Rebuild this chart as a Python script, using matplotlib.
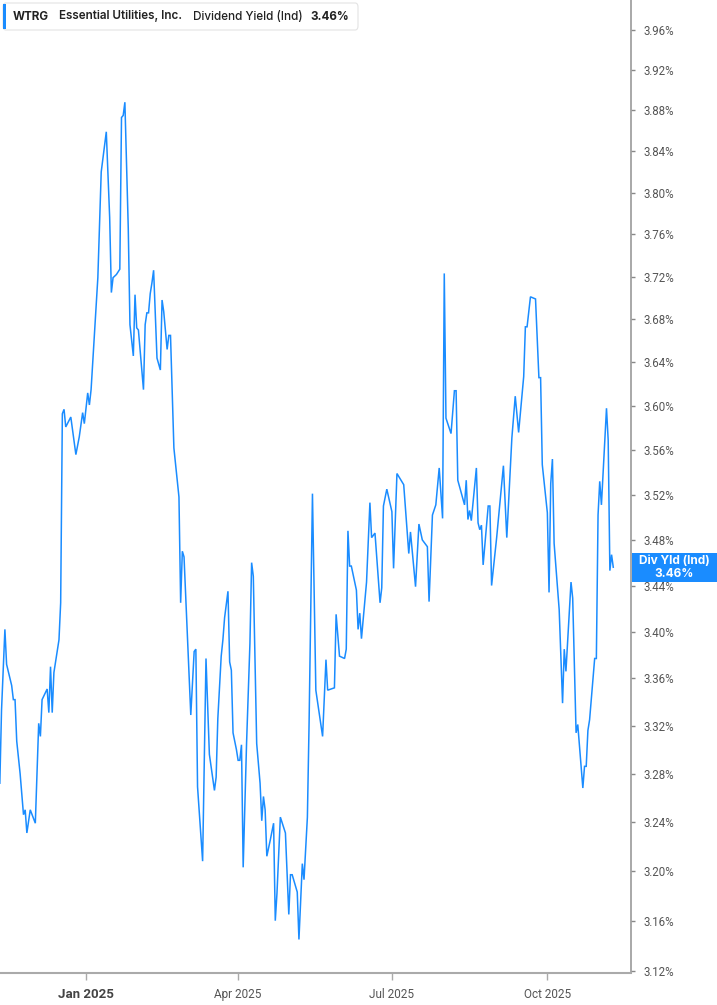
import matplotlib
matplotlib.use("Agg")
import matplotlib.pyplot as plt
from matplotlib.patches import Rectangle, FancyBboxPatch
from matplotlib.ticker import FixedLocator, NullLocator
import pandas as pd

# WTRG dividend yield
# days counted from 2025-01-01
days = [-51, -50, -48, -47, -44, -43, -42, -41, -39, -37, -36, -35, -33, -30, -28, -27, -26, -23, -22, -21,
        -20, -19, -16, -15, -14, -13, -12, -9, -6, -4, -2, -1, 1, 2, 3,
        5, 7, 9, 12, 14, 15, 16, 18, 20, 21, 22, 23, 25, 26, 28, 29, 30, 31, 34, 35,
        36, 37, 38, 39, 40, 42, 44, 45, 46, 48, 49, 50, 52, 55, 56, 57, 58,
        62, 64, 65, 66, 69, 71, 73, 76, 77, 78, 80, 81, 82, 84, 85, 86, 87, 89, 90, 91,
        92, 93, 95, 97, 98, 99, 101, 103, 104, 105, 106, 107, 109, 111, 112, 113, 115, 118, 120, 121,
        122, 125, 126, 128, 129, 131, 132, 134, 136, 140,
        142, 143, 147, 148, 150, 153, 154, 155, 156, 157, 160, 161, 162, 163, 166, 168, 169, 171, 174, 175,
        176, 178, 181, 182, 184, 188, 191, 192, 195, 197, 199, 202, 203, 205, 207, 209,
        211, 212, 213, 216, 218, 219, 220, 224, 225, 226, 227, 228, 231, 232, 233, 234, 235, 238, 239, 240,
        243, 247, 249, 252, 254, 256, 259, 260, 261, 263, 266, 268, 269,
        270, 273, 274, 275, 276, 277, 280, 282, 283, 284, 287, 288, 290, 291, 294, 295, 296, 297, 298, 301,
        302, 303, 304, 305, 308, 309, 310, 311, 312]

yields = [3.272, 3.333, 3.402, 3.372, 3.354, 3.342, 3.342, 3.307, 3.280, 3.246, 3.250, 3.231, 3.250, 3.239,
          3.322, 3.311, 3.342, 3.351, 3.331, 3.370, 3.331, 3.365, 3.393, 3.425, 3.593, 3.597, 3.581, 3.590,
          3.556, 3.572, 3.594, 3.584, 3.612, 3.601, 3.615,
          3.666, 3.719, 3.820, 3.859, 3.776, 3.705, 3.719, 3.722, 3.727, 3.873, 3.875, 3.888, 3.766, 3.675,
          3.646, 3.703, 3.672, 3.670, 3.615, 3.675, 3.686, 3.686, 3.704, 3.714, 3.726, 3.644, 3.633, 3.698,
          3.687, 3.652, 3.665, 3.665, 3.562, 3.518, 3.425, 3.470, 3.465,
          3.329, 3.383, 3.385, 3.269, 3.208, 3.377, 3.296, 3.266, 3.277, 3.326, 3.379, 3.393, 3.412, 3.435,
          3.374, 3.367, 3.314, 3.300, 3.291, 3.291, 3.304, 3.203, 3.305, 3.390, 3.460, 3.448, 3.305, 3.272,
          3.241, 3.261, 3.250, 3.212, 3.225, 3.239, 3.160, 3.182, 3.244, 3.231, 3.165, 3.197, 3.197, 3.183,
          3.145, 3.206, 3.193, 3.244, 3.322, 3.521, 3.350, 3.311,
          3.376, 3.350, 3.352, 3.415, 3.379, 3.377, 3.385, 3.488, 3.457, 3.457, 3.436, 3.402, 3.416, 3.394,
          3.443, 3.513, 3.482, 3.486, 3.425, 3.438, 3.510, 3.525, 3.505, 3.455, 3.539, 3.529, 3.468, 3.487,
          3.439, 3.494, 3.480, 3.474, 3.426, 3.502, 3.511, 3.544,
          3.499, 3.723, 3.589, 3.575, 3.614, 3.614, 3.533, 3.511, 3.533, 3.498, 3.506, 3.497, 3.544, 3.495,
          3.489, 3.493, 3.458, 3.510, 3.510, 3.440, 3.482, 3.546, 3.482, 3.571, 3.609, 3.576, 3.627, 3.673,
          3.673, 3.701, 3.699, 3.626, 3.626,
          3.547, 3.504, 3.434, 3.530, 3.552, 3.477, 3.419, 3.339, 3.385, 3.366, 3.443, 3.429, 3.314, 3.321,
          3.268, 3.286, 3.286, 3.316, 3.325, 3.377, 3.377, 3.502, 3.532, 3.511, 3.598, 3.569, 3.453, 3.467,
          3.456]

ytick_vals = [3.12, 3.16, 3.20, 3.24, 3.28, 3.32, 3.36, 3.40, 3.44, 3.48, 3.52, 3.56, 3.60, 3.64, 3.68,
              3.72, 3.76, 3.80, 3.84, 3.88, 3.92, 3.96]
xtick_dates = ["2025-01-01", "2025-04-01", "2025-07-01", "2025-10-01"]
xtick_labels = ["Jan 2025", "Apr 2025", "Jul 2025", "Oct 2025"]

ticker_name = "WTRG"
company = "Essential Utilities, Inc."
metric = "Dividend Yield (Ind)"
last_label = "3.46%"

BLUE = "#1a8cff"
W, H = 717, 1005

base = pd.Timestamp("2025-01-01")
dates = [base + pd.Timedelta(days=d) for d in days]

fig = plt.figure(figsize=(W / 100, H / 100), dpi=100)
ax = fig.add_axes([0, 32 / H, 631 / W, 1 - 32 / H])

ax.plot(dates, yields, color=BLUE, lw=1.1, solid_joinstyle="miter")

ax.set_yscale("log")
ax.set_ylim(3.1184, 3.990)
ax.set_xlim(base + pd.Timedelta(days=-50.9), base + pd.Timedelta(days=322.5))

# y axis on the right
ax.yaxis.tick_right()
ax.yaxis.set_major_locator(FixedLocator(ytick_vals))
ax.yaxis.set_minor_locator(NullLocator())
ax.set_yticklabels([f"{v:.2f}%" for v in ytick_vals])
ax.tick_params(axis="y", direction="out", length=3, width=1, color="#888",
               labelsize=8.3, labelcolor="#555", pad=6)
for t in ax.get_yticklabels():
    t.set_fontfamily("Roboto")

# x axis
ax.set_xticks([pd.Timestamp(d) for d in xtick_dates])
ax.set_xticklabels(xtick_labels)
ax.tick_params(axis="x", direction="out", length=5, width=1, color="#aaa",
               labelsize=8.5, labelcolor="#555", pad=6)
for i, t in enumerate(ax.get_xticklabels()):
    t.set_fontfamily("Roboto")
    if i == 0:
        t.set_fontweight("bold")
        t.set_fontsize(9.5)
        t.set_color("#444")

for side in ["top", "left"]:
    ax.spines[side].set_visible(False)
ax.spines["right"].set_color("#999")
ax.spines["bottom"].set_color("#aaa")
ax.spines["right"].set_linewidth(1.2)
ax.spines["bottom"].set_linewidth(1.5)

# header box at top left
fig.patches.append(FancyBboxPatch((3 / W, 1 - 30 / H), 355 / W, 27 / H,
                                  boxstyle="round,pad=0,rounding_size=0.004",
                                  transform=fig.transFigure, facecolor="white",
                                  edgecolor="#e3e3e3", lw=0.8, zorder=5))
fig.patches.append(Rectangle((3 / W, 1 - 29 / H), 3 / W, 25 / H, transform=fig.transFigure,
                             facecolor=BLUE, edgecolor="none", zorder=6))
hy = 1 - 16.5 / H
hsize = 8.4
fig.text(13 / W, hy, ticker_name, fontsize=hsize, fontweight="bold", family="Inter",
         color="#222", va="center", zorder=7)
fig.text(59 / W, hy, company, fontsize=hsize, fontweight="semibold", family="Inter",
         color="#222", va="center", zorder=7)
fig.text(193 / W, hy, metric, fontsize=hsize, fontweight="medium", family="Inter",
         color="#222", va="center", zorder=7)
fig.text(310 / W, hy, last_label, fontsize=hsize, fontweight="bold", family="Inter",
         color="#222", va="center", zorder=7)

# last value tag on the right axis
y_disp = ax.transData.transform((ax.get_xlim()[0], yields[-1]))[1]
y_fig = fig.transFigure.inverted().transform((0, y_disp))[1]
fig.patches.append(Rectangle((632 / W, y_fig - 14.5 / H), 85 / W, 29 / H, transform=fig.transFigure,
                             facecolor=BLUE, edgecolor="none", zorder=6))
fig.text(674.5 / W, y_fig + 6.5 / H, "Div Yld (Ind)", fontsize=8.5, fontweight="bold", family="Inter",
         color="white", ha="center", va="center", zorder=7)
fig.text(674.5 / W, y_fig - 6.5 / H, last_label, fontsize=8.5, fontweight="bold", family="Inter",
         color="white", ha="center", va="center", zorder=7)

fig.savefig("out.png", dpi=100)
